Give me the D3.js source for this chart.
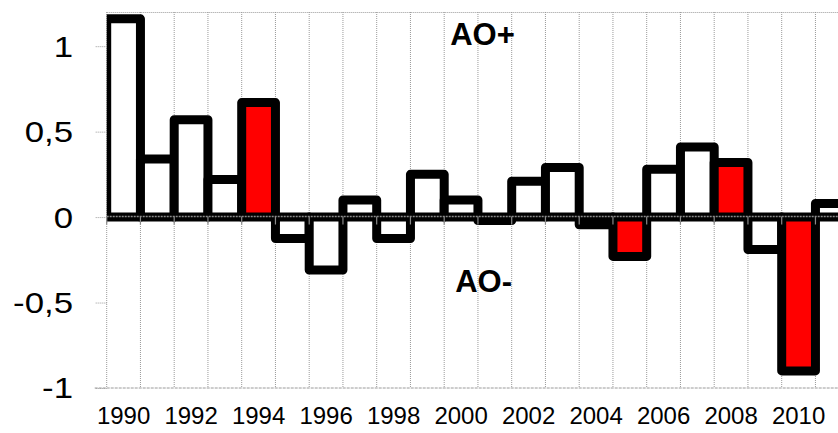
<!DOCTYPE html>
<html><head><meta charset="utf-8">
<script src="https://cdn.jsdelivr.net/npm/d3@7"></script>
<style>html,body{margin:0;padding:0;background:#fff;overflow:hidden}</style>
</head><body>
<svg id="c" width="838" height="433"></svg>
<script>
const years = [1990,1991,1992,1993,1994,1995,1996,1997,1998,1999,2000,2001,2002,2003,2004,2005,2006,2007,2008,2009,2010,2011];
const aoValues = [1.16,0.34,0.57,0.22,0.67,-0.125,-0.31,0.10,-0.125,0.25,0.10,-0.02,0.21,0.29,-0.045,-0.23,0.28,0.41,0.32,-0.19,-0.90,0.08];
const highlightYears = [1994,2005,2008,2010];
const yTickValues = [1,0.5,0,-0.5,-1];
const xLabelYears = [1990,1992,1994,1996,1998,2000,2002,2004,2006,2008,2010];
const annotationTexts = ["AO+","AO-"];

(function(){
const svg = d3.select("#c");
const W = 838, H = 433;
const pLeft = 106.7, pRight = 849.2, pTop = 12, pBottom = 388;
const font = "'Liberation Sans', Arial, sans-serif";

const x = d3.scaleBand().domain(years).range([pLeft, pRight]).padding(0);
const y = d3.scaleLinear().domain([-1, 1.2]).range([pBottom, pTop]);

const grid = "#9a9a9a";

svg.append("defs").append("clipPath").attr("id","plot")
  .append("rect").attr("x", pLeft).attr("y", 0).attr("width", W - pLeft).attr("height", H);

const bounds = years.map(d => x(d)).concat([x(years[years.length-1]) + x.bandwidth()]);
svg.append("g").selectAll("line").data(bounds).join("line")
  .attr("x1", d => d).attr("x2", d => d)
  .attr("y1", pTop).attr("y2", pBottom)
  .attr("stroke", grid).attr("stroke-width", 1).attr("stroke-dasharray", "1,1");

svg.append("line").attr("x1", pLeft).attr("x2", W).attr("y1", pTop + 0.5).attr("y2", pTop + 0.5)
  .attr("stroke", grid).attr("stroke-dasharray", "1,1");

const data = years.map((yr, i) => ({year: yr, v: aoValues[i]}));
const bars = svg.append("g").attr("clip-path", "url(#plot)");
bars.selectAll("rect").data(data).join("rect")
  .attr("x", d => x(d.year))
  .attr("width", x.bandwidth())
  .attr("y", d => y(Math.max(0, d.v)))
  .attr("height", d => Math.abs(y(d.v) - y(0)))
  .attr("fill", d => highlightYears.includes(d.year) ? "#ff0000" : "#ffffff")
  .attr("stroke", "#000")
  .attr("stroke-width", 9)
  .attr("stroke-linejoin", "round");

const zy = Math.round(y(0)) - 0.5;
svg.append("line").attr("x1", pLeft).attr("x2", W).attr("y1", zy).attr("y2", zy)
  .attr("stroke", "#8a8a8a").attr("stroke-width", 1.5).attr("stroke-dasharray", "2,1");
svg.append("g").selectAll("line").data(bounds).join("line")
  .attr("x1", d => d).attr("x2", d => d)
  .attr("y1", zy).attr("y2", zy + 8)
  .attr("stroke", "#8a8a8a").attr("stroke-width", 1.2);

const yAxis = d3.axisLeft(y).tickValues(yTickValues).tickSize(12).tickFormat("");
const ya = svg.append("g").attr("transform", `translate(${pLeft},0)`).call(yAxis);
ya.select(".domain").remove();
ya.selectAll(".tick line").attr("stroke", grid).attr("stroke-dasharray", "1,1");

svg.append("line").attr("x1", pLeft - 12).attr("x2", W).attr("y1", y(-1)).attr("y2", y(-1))
  .attr("stroke", grid).attr("stroke-dasharray", "3,1");

svg.append("g").selectAll("text").data(yTickValues).join("text")
  .attr("transform", d => `translate(73,${y(d)}) scale(1.2,1)`)
  .attr("dy", "0.36em")
  .attr("text-anchor", "end")
  .attr("font-family", font).attr("font-size", 29).attr("fill", "#000")
  .text(d => String(d).replace(".", ","));

svg.append("g").selectAll("text").data(xLabelYears).join("text")
  .attr("x", d => x(d) + x.bandwidth() / 2)
  .attr("y", 424)
  .attr("text-anchor", "middle")
  .attr("font-family", font).attr("font-size", 24).attr("fill", "#000")
  .text(d => d);

svg.append("text").attr("x", x(2000) + 6).attr("y", y(1.0) - 1)
  .attr("font-family", font).attr("font-size", 31).attr("font-weight", "bold").attr("fill", "#000")
  .text(annotationTexts[0]);
svg.append("text").attr("x", x(2000) + 11).attr("y", y(-0.44))
  .attr("font-family", font).attr("font-size", 31).attr("font-weight", "bold").attr("fill", "#000")
  .text(annotationTexts[1]);
})();
</script>
</body></html>
